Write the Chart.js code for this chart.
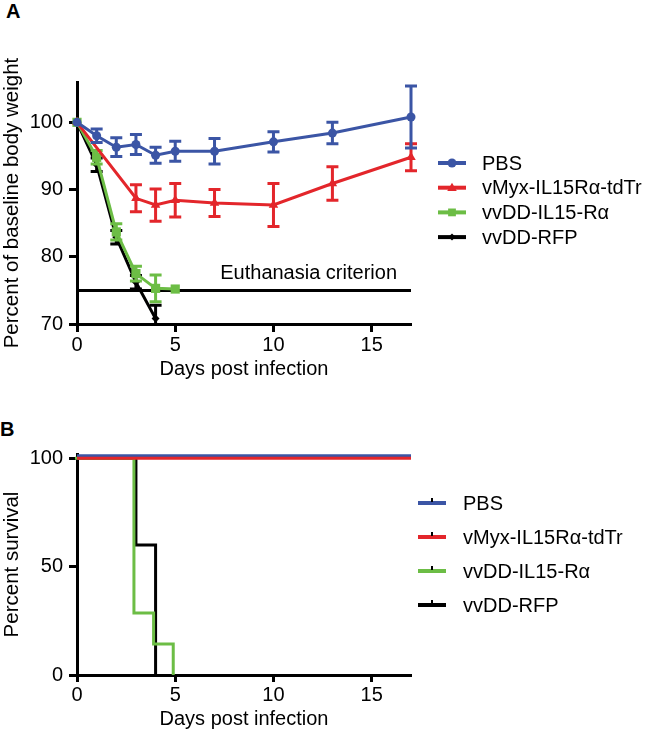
<!DOCTYPE html>
<html>
<head>
<meta charset="utf-8">
<script src="https://cdn.jsdelivr.net/npm/chart.js@4.4.0/dist/chart.umd.min.js"></script>
<style>
  html, body { margin: 0; padding: 0; background: #fff; }
  body { width: 650px; height: 731px; position: relative; overflow: hidden; font-family: "Liberation Sans", Arial, sans-serif; }
  .panel { position: absolute; left: 0; width: 650px; }
  #panelA { top: 0; height: 385px; }
  #panelB { top: 385px; height: 346px; }
  .tag { position: absolute; font-weight: bold; font-size: 20px; line-height: 20px; }
</style>
</head>
<body>
<div class="tag" style="left:6px;top:1px">A</div>
<div class="tag" style="left:0px;top:419px">B</div>
<div class="panel" id="panelA"><canvas id="weight" width="650" height="385"></canvas></div>
<div class="panel" id="panelB"><canvas id="survival" width="650" height="346"></canvas></div>
<script>
// series names and colours
const SERIES = ["PBS", "vMyx-IL15R\u03b1-tdTr", "vvDD-IL15-R\u03b1", "vvDD-RFP"];
const COLORS = ["#3b55a5", "#e3262b", "#6cbd45", "#000000"];
const MARKERS = ["circle", "triangle", "rect", "rectRot"];

// panel A: body weight (% of baseline), mean and error
const DAYS_PBS = [0, 1, 2, 3, 4, 5, 7, 10, 13, 17];
const WEIGHT_PBS = [100, 98.0, 96.3, 96.7, 95.1, 95.7, 95.7, 97.1, 98.4, 100.8];
const ERR_PBS = [0, 1.0, 1.4, 1.5, 1.2, 1.5, 1.9, 1.5, 1.6, 4.6];

const DAYS_MYX = [0, 3, 4, 5, 7, 10, 13, 17];
const WEIGHT_MYX = [100, 88.7, 87.7, 88.4, 88.0, 87.7, 90.9, 94.8];
const ERR_MYX = [0, 2.0, 2.4, 2.5, 2.0, 3.2, 2.5, 2.0];

const DAYS_IL15 = [0, 1, 2, 3, 4, 5];
const WEIGHT_IL15 = [100, 94.8, 83.7, 77.5, 75.3, 75.2];
const ERR_IL15 = [0, 1.0, 1.2, 1.1, 2.0, 0];

const DAYS_RFP = [0, 1, 2, 3, 4];
const WEIGHT_RFP = [100, 93.7, 82.9, 76.2, 70.8];
const ERR_RFP = [0, 1.0, 1.0, 1.0, 2.0];

const EUTHANASIA = 75;

// panel B: survival (%)
const SURV_DAYS_PBS = [0, 17];
const SURV_PBS = [100, 100];
const SURV_DAYS_MYX = [0, 17];
const SURV_MYX = [100, 100];
const SURV_DAYS_IL15 = [0, 3, 4, 5];
const SURV_IL15 = [100, 28.6, 14.3, 0];
const SURV_DAYS_RFP = [0, 3, 4];
const SURV_RFP = [100, 60, 0];

// ticks
const X_TICKS = [0, 5, 10, 15];
const Y_TICKS_A = [70, 80, 90, 100];
const Y_TICKS_B = [0, 50, 100];

Chart.defaults.font.family = "'Liberation Sans', Arial, sans-serif";
Chart.defaults.font.size = 20;
Chart.defaults.color = "#000";

const pts = (xs, ys) => xs.map((x, i) => ({ x: x, y: ys[i] }));

function drawMarker(ctx, style, x, y, r) {
    ctx.beginPath();
    if (style === "circle") {
        ctx.arc(x, y, r, 0, Math.PI * 2);
    } else if (style === "triangle") {
        ctx.moveTo(x, y - r);
        ctx.lineTo(x + r * 0.95, y + r * 0.65);
        ctx.lineTo(x - r * 0.95, y + r * 0.65);
        ctx.closePath();
    } else if (style === "rect") {
        const s = r * Math.SQRT1_2;
        ctx.rect(x - s, y - s, 2 * s, 2 * s);
    } else {
        ctx.moveTo(x, y - r);
        ctx.lineTo(x + r, y);
        ctx.lineTo(x, y + r);
        ctx.lineTo(x - r, y);
        ctx.closePath();
    }
    ctx.fill();
}

// error bars under each dataset's own line
const errorBars = {
    id: "errorBars",
    beforeDatasetDraw(chart, args) {
        const ds = chart.data.datasets[args.index];
        if (!ds.errors) return;
        const { ctx, chartArea: a, scales: { x, y } } = chart;
        ctx.save();
        ctx.beginPath();
        ctx.rect(a.left - 20, a.top - 20, a.right - a.left + 40, a.bottom - a.top + 20);
        ctx.clip();
        ctx.strokeStyle = ds.borderColor;
        ctx.lineWidth = 3;
        ds.data.forEach((p, i) => {
            const e = ds.errors[i];
            if (!e) return;
            const px = x.getPixelForValue(p.x);
            const top = y.getPixelForValue(p.y + e);
            const bot = y.getPixelForValue(p.y - e);
            ctx.beginPath();
            ctx.moveTo(px, top); ctx.lineTo(px, bot);
            ctx.moveTo(px - 6, top); ctx.lineTo(px + 6, top);
            ctx.moveTo(px - 6, bot); ctx.lineTo(px + 6, bot);
            ctx.stroke();
        });
        ctx.restore();
    }
};

// overlapping survival curves are drawn a couple of pixels apart, as the original does
const nudge = {
    id: "nudge",
    beforeDatasetDraw(chart, args) {
        const n = chart.data.datasets[args.index].nudge;
        chart.ctx.save();
        if (n) chart.ctx.translate(n[0], n[1]);
    },
    afterDatasetDraw(chart) {
        chart.ctx.restore();
    }
};

// legend drawn to the right of the plot: short line + marker, then the name
const sideLegend = {
    id: "sideLegend",
    afterDraw(chart, args, opts) {
        const ctx = chart.ctx;
        ctx.save();
        ctx.font = "20px 'Liberation Sans', Arial, sans-serif";
        ctx.textBaseline = "middle";
        ctx.textAlign = "left";
        SERIES.forEach((name, i) => {
            const y = opts.y + i * opts.gap;
            const x0 = opts.x, x1 = opts.x + 28, xm = opts.x + 14;
            ctx.strokeStyle = COLORS[i];
            ctx.fillStyle = COLORS[i];
            ctx.lineWidth = 4;
            ctx.beginPath(); ctx.moveTo(x0, y); ctx.lineTo(x1, y); ctx.stroke();
            if (opts.markers) {
                drawMarker(ctx, MARKERS[i], xm, y, opts.markerSize[i]);
            } else {
                ctx.fillStyle = "#000";
                ctx.fillRect(xm - 1, y - 5, 2, 4);
            }
            ctx.fillStyle = "#000";
            ctx.fillText(name, x1 + opts.textGap, y + 1);
        });
        ctx.restore();
    }
};

const euthLabel = {
    id: "euthLabel",
    afterDatasetsDraw(chart) {
        const { ctx, scales: { x, y } } = chart;
        ctx.save();
        ctx.font = "20px 'Liberation Sans', Arial, sans-serif";
        ctx.fillStyle = "#000";
        ctx.textAlign = "right";
        ctx.textBaseline = "alphabetic";
        ctx.fillText("Euthanasia criterion", x.getPixelForValue(17) - 14, y.getPixelForValue(EUTHANASIA) - 11);
        ctx.restore();
    }
};

function xAxis(height, tickLen, pad, titlePad) {
    return {
        type: "linear", min: 0, max: 17,
        afterBuildTicks: s => { s.ticks = X_TICKS.map(v => ({ value: v })); },
        afterFit: s => { s.height = height; },
        grid: { drawOnChartArea: false, drawTicks: true, tickLength: tickLen, tickWidth: 3, tickColor: "#000" },
        border: { display: true, color: "#000", width: 3 },
        ticks: { color: "#000", padding: pad, maxRotation: 0, autoSkip: false },
        title: { display: true, text: "Days post infection", color: "#000", padding: { top: 0, bottom: titlePad } }
    };
}

function yAxis(min, max, tickList, title) {
    return {
        type: "linear", min: min, max: max,
        afterBuildTicks: s => { s.ticks = tickList.map(v => ({ value: v })); },
        afterFit: s => { s.width = 77; },
        grid: { drawOnChartArea: false, drawTicks: true, tickLength: 8, tickWidth: 3, tickColor: "#000" },
        border: { display: true, color: "#000", width: 3 },
        ticks: { color: "#000", padding: 6, autoSkip: false },
        title: { display: true, text: title, color: "#000", font: { size: 20.5 }, padding: { top: 0, bottom: 0 } }
    };
}

const weightSets = [
    [DAYS_PBS, WEIGHT_PBS, ERR_PBS, 4.5],
    [DAYS_MYX, WEIGHT_MYX, ERR_MYX, 5.5],
    [DAYS_IL15, WEIGHT_IL15, ERR_IL15, 6.5],
    [DAYS_RFP, WEIGHT_RFP, ERR_RFP, 4]
].map(([xs, ys, err, r], i) => ({
    label: SERIES[i],
    data: pts(xs, ys),
    errors: err,
    borderColor: COLORS[i],
    backgroundColor: COLORS[i],
    borderWidth: 3,
    pointStyle: MARKERS[i],
    pointRadius: r,
    pointBorderWidth: 0,
    tension: 0,
    clip: false,
    order: i
}));

weightSets.push({
    label: "Euthanasia criterion",
    data: [{ x: 0, y: EUTHANASIA }, { x: 17, y: EUTHANASIA }],
    borderColor: "#000",
    borderWidth: 3,
    pointRadius: 0,
    clip: false,
    order: 10
});

new Chart(document.getElementById("weight"), {
    type: "line",
    data: { datasets: weightSets },
    options: {
        responsive: false,
        animation: false,
        events: [],
        layout: { padding: { top: 82, right: 239, bottom: 0, left: 0 } },
        plugins: {
            legend: { display: false },
            tooltip: { enabled: false },
            sideLegend: { x: 438, y: 163, gap: 24.7, textGap: 16, markers: true, markerSize: [4.5, 5, 5.5, 3.5] }
        },
        scales: {
            x: xAxis(61, 8, 1, 4),
            y: yAxis(70, 106, Y_TICKS_A, "Percent of baseline body weight")
        }
    },
    plugins: [errorBars, euthLabel, sideLegend]
});

const survSets = [
    [SURV_DAYS_PBS, SURV_PBS, 1, [0, -2.5]],
    [SURV_DAYS_MYX, SURV_MYX, 0, null],
    [SURV_DAYS_IL15, SURV_IL15, 2, [-2, 0]],
    [SURV_DAYS_RFP, SURV_RFP, 3, null]
].map(([xs, ys, ord, nd], i) => ({
    label: SERIES[i],
    data: pts(xs, ys),
    borderColor: COLORS[i],
    borderWidth: 3,
    pointRadius: 0,
    stepped: true,
    clip: false,
    order: ord,
    nudge: nd
}));

new Chart(document.getElementById("survival"), {
    type: "line",
    data: { datasets: survSets },
    options: {
        responsive: false,
        animation: false,
        events: [],
        layout: { padding: { top: 69, right: 239, bottom: 0, left: 0 } },
        plugins: {
            legend: { display: false },
            tooltip: { enabled: false },
            sideLegend: { x: 418, y: 118, gap: 34, textGap: 17, markers: false }
        },
        scales: {
            x: xAxis(56, 7, 1, 0),
            y: yAxis(0, 102, Y_TICKS_B, "Percent survival")
        }
    },
    plugins: [nudge, sideLegend]
});
</script>
</body>
</html>
